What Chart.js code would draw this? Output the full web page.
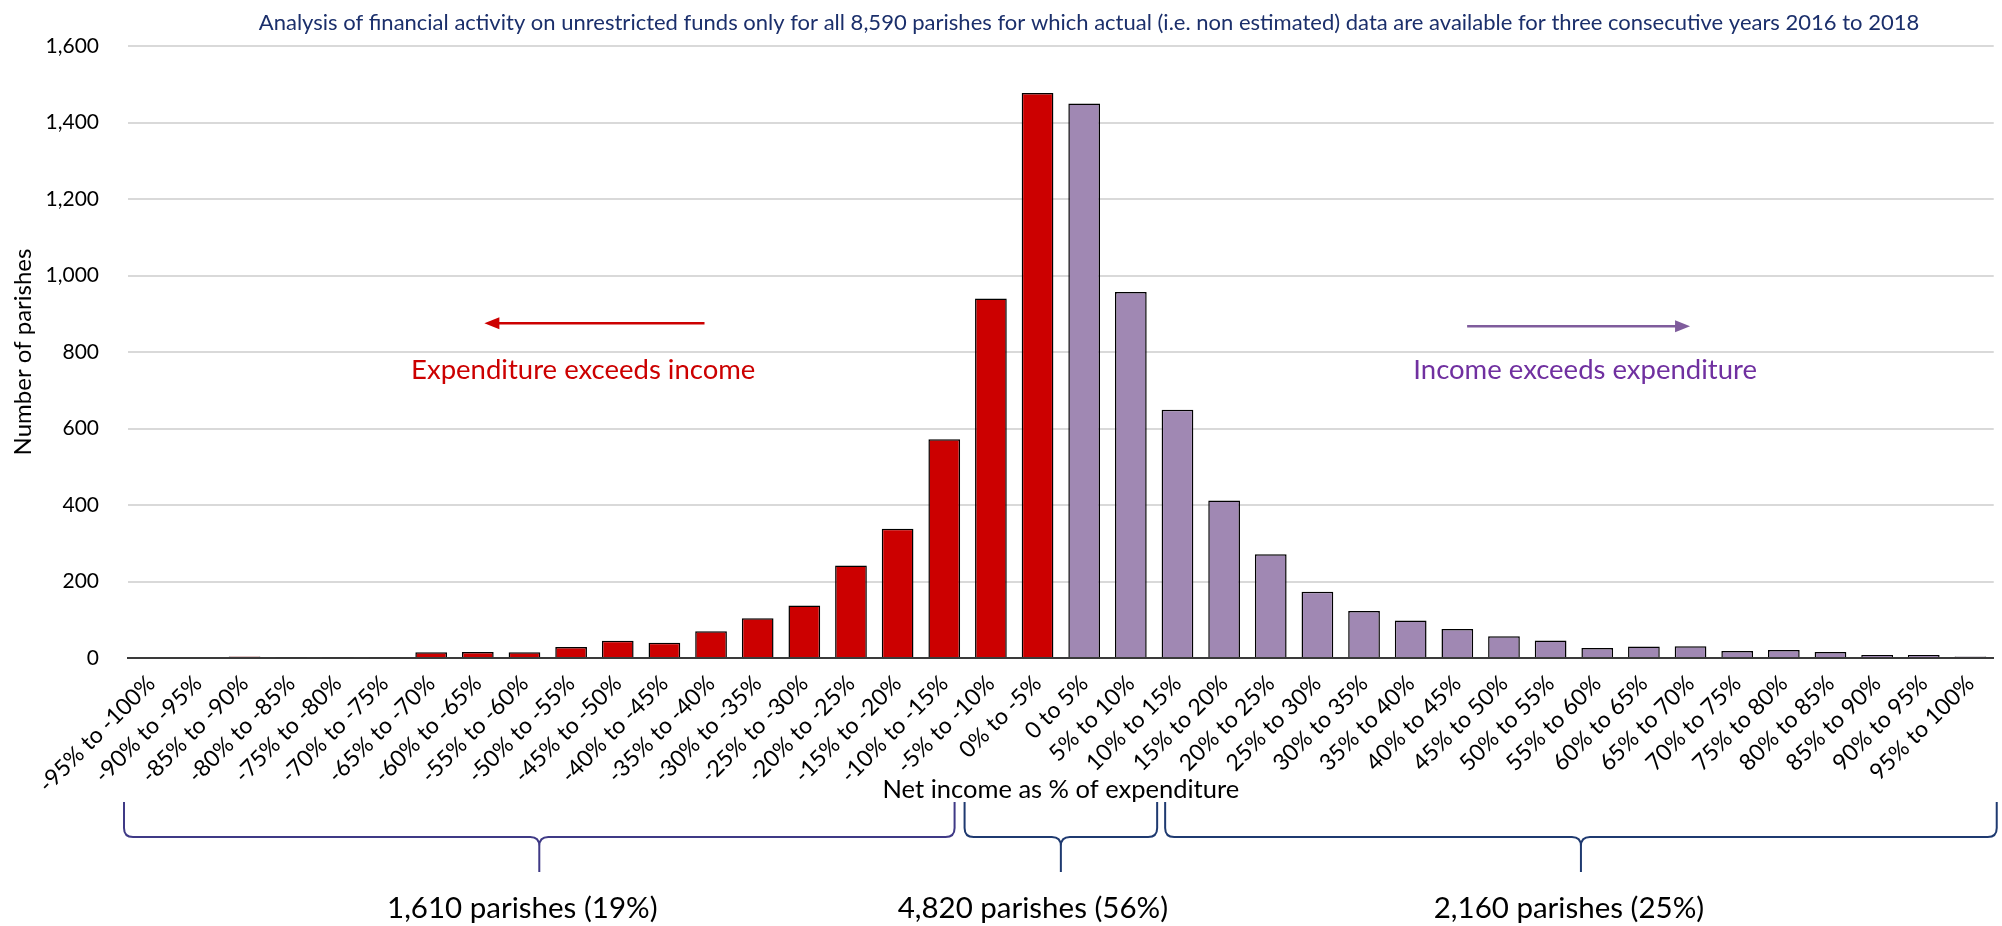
<!DOCTYPE html>
<html>
<head>
<meta charset="utf-8">
<script src="https://cdn.jsdelivr.net/npm/chart.js@4.4.1/dist/chart.umd.min.js"></script>
<style>
  html, body { margin: 0; padding: 0; background: #ffffff; }
  #wrap { width: 2002px; height: 926px; position: relative; }
  canvas { display: block; }
</style>
</head>
<body>
<div id="wrap"><canvas id="chart" width="2002" height="926"></canvas></div>
<script>
// Net income as % of expenditure, 5-point bands
const binLabels = [
  '-95% to -100%', '-90% to -95%', '-85% to -90%', '-80% to -85%', '-75% to -80%',
  '-70% to -75%', '-65% to -70%', '-60% to -65%', '-55% to -60%', '-50% to -55%',
  '-45% to -50%', '-40% to -45%', '-35% to -40%', '-30% to -35%', '-25% to -30%',
  '-20% to -25%', '-15% to -20%', '-10% to -15%', '-5% to -10%', '0% to -5%',
  '0 to 5%', '5% to 10%', '10% to 15%', '15% to 20%', '20% to 25%',
  '25% to 30%', '30% to 35%', '35% to 40%', '40% to 45%', '45% to 50%',
  '50% to 55%', '55% to 60%', '60% to 65%', '65% to 70%', '70% to 75%',
  '75% to 80%', '80% to 85%', '85% to 90%', '90% to 95%', '95% to 100%'
];

// Number of parishes in each band where expenditure exceeds income
const deficitCounts = [0, 0, 4, 2, 2, 2, 15, 16, 15, 29, 45, 40, 70, 104, 137, 242, 338, 572, 940, 1477];

// Number of parishes in each band where income exceeds expenditure
const surplusCounts = [1450, 957, 649, 412, 271, 173, 123, 98, 76, 57, 46, 26, 30, 31, 18, 21, 16, 8, 8, 4];

// Y axis ticks
const yTickValues = [0, 200, 400, 600, 800, 1000, 1200, 1400, 1600];

// Group totals shown under the braces, with the band index range each covers
const groupLabels = ['1,610 parishes (19%)', '4,820 parishes (56%)', '2,160 parishes (25%)'];
const groupRanges = [[0, 18], [18, 22], [22, 40]];

const chartTitle = 'Analysis of financial activity on unrestricted funds only for all 8,590 parishes for which actual (i.e. non estimated) data are available for three consecutive years 2016 to 2018';
const xTitle = 'Net income as % of expenditure';
const yTitle = 'Number of parishes';
const leftNote = 'Expenditure exceeds income';
const rightNote = 'Income exceeds expenditure';

const FONT = 'Lato, "Open Sans", sans-serif';
const RED = '#cc0000';
const LAVENDER = '#a088b3';
const PURPLE_TEXT = '#7030a0';
const PURPLE_ARROW = '#7f5c9c';
const NAVY = '#1b2f6b';

const nBins = binLabels.length;
const deficitData = binLabels.map((_, i) => i < deficitCounts.length ? deficitCounts[i] : null);
const surplusData = binLabels.map((_, i) => i >= deficitCounts.length ? surplusCounts[i - deficitCounts.length] : null);

function fmt(n) { return n.toLocaleString('en-US'); }

function arrow(ctx, x1, y, x2, color) {
  const dir = Math.sign(x2 - x1);
  const head = 15, half = 6;
  ctx.save();
  ctx.strokeStyle = color;
  ctx.fillStyle = color;
  ctx.lineWidth = 2.5;
  ctx.beginPath();
  ctx.moveTo(x1, y);
  ctx.lineTo(x2 - dir * head * 0.8, y);
  ctx.stroke();
  ctx.beginPath();
  ctx.moveTo(x2, y);
  ctx.lineTo(x2 - dir * head, y - half);
  ctx.lineTo(x2 - dir * head, y + half);
  ctx.closePath();
  ctx.fill();
  ctx.restore();
}

function brace(ctx, xa, xb, yTop, yMid, yTip, color) {
  const xm = (xa + xb) / 2;
  const r = 9;
  ctx.save();
  ctx.strokeStyle = color;
  ctx.lineWidth = 2;
  ctx.lineJoin = 'round';
  ctx.beginPath();
  ctx.moveTo(xa, yTop);
  ctx.lineTo(xa, yMid - r);
  ctx.quadraticCurveTo(xa, yMid, xa + r, yMid);
  ctx.lineTo(xm - r, yMid);
  ctx.quadraticCurveTo(xm, yMid, xm, yMid + r);
  ctx.lineTo(xm, yTip);
  ctx.moveTo(xb, yTop);
  ctx.lineTo(xb, yMid - r);
  ctx.quadraticCurveTo(xb, yMid, xb - r, yMid);
  ctx.lineTo(xm + r, yMid);
  ctx.quadraticCurveTo(xm, yMid, xm, yMid + r);
  ctx.stroke();
  ctx.restore();
  return xm;
}

const decorations = {
  id: 'decorations',
  afterDraw(chart) {
    const ctx = chart.ctx;
    const area = chart.chartArea;
    const ys = chart.scales.y;
    const band = (area.right - area.left) / nBins;
    const bx = (i) => area.left + i * band;   // band boundary / fractional band position

    ctx.save();
    ctx.textAlign = 'center';
    ctx.textBaseline = 'middle';

    // Title
    ctx.fillStyle = NAVY;
    ctx.font = '22px ' + FONT;
    ctx.fillText(chartTitle, 1089, 23);

    // Y axis title
    ctx.save();
    ctx.translate(23, (area.top + area.bottom) / 2);
    ctx.rotate(-Math.PI / 2);
    ctx.fillStyle = '#000';
    ctx.font = '24px ' + FONT;
    ctx.fillText(yTitle, 0, 0);
    ctx.restore();

    // X axis title
    ctx.fillStyle = '#000';
    ctx.font = '25.5px ' + FONT;
    ctx.fillText(xTitle, (area.left + area.right) / 2, 790);

    // Direction notes
    const yArrowL = ys.getPixelForValue(875);
    const yArrowR = ys.getPixelForValue(867);
    const yNote = ys.getPixelForValue(752);
    arrow(ctx, bx(12.36), yArrowL, bx(7.64), RED);
    arrow(ctx, bx(28.71), yArrowR, bx(33.49), PURPLE_ARROW);
    ctx.font = '27.5px ' + FONT;
    ctx.fillStyle = RED;
    ctx.fillText(leftNote, bx(9.76), yNote);
    ctx.fillStyle = PURPLE_TEXT;
    ctx.fillText(rightNote, bx(31.24), yNote);

    // Braces with group totals
    const braceColors = ['#3f3a86', '#1f3a70', '#1f3a70'];
    const insets = [[-4, -13], [-3, 3], [11, 3]];
    const labelShift = [-17, -28, -12];
    ctx.font = '29.5px ' + FONT;
    ctx.fillStyle = '#000';
    groupRanges.forEach((rg, k) => {
      const xa = bx(rg[0]) + insets[k][0];
      const xb = bx(rg[1]) + insets[k][1];
      const xm = brace(ctx, xa, xb, 802, 837, 872, braceColors[k]);
      ctx.fillText(groupLabels[k], xm + labelShift[k], 908);
    });
    ctx.restore();
  }
};

new Chart(document.getElementById('chart'), {
  type: 'bar',
  data: {
    labels: binLabels,
    datasets: [
      {
        label: leftNote,
        data: deficitData,
        backgroundColor: RED,
        borderColor: '#000000',
        borderWidth: 1.5,
        grouped: false,
        barPercentage: 0.68,
        categoryPercentage: 1.0
      },
      {
        label: rightNote,
        data: surplusData,
        backgroundColor: LAVENDER,
        borderColor: '#000000',
        borderWidth: 1.5,
        grouped: false,
        barPercentage: 0.68,
        categoryPercentage: 1.0
      }
    ]
  },
  options: {
    responsive: false,
    animation: false,
    devicePixelRatio: 1,
    layout: { padding: { top: 46, right: 6, left: 0, bottom: 0 } },
    plugins: {
      legend: { display: false },
      tooltip: { enabled: false },
      title: { display: false }
    },
    scales: {
      x: {
        type: 'category',
        offset: true,
        grid: { display: false, drawTicks: false, tickLength: 0 },
        border: { display: true, color: '#3a3a3a', width: 2 },
        ticks: {
          autoSkip: false,
          maxRotation: 45,
          minRotation: 45,
          padding: 12,
          color: '#000',
          font: { family: FONT, size: 23 }
        },
        afterFit(scale) { scale.height = 268; }
      },
      y: {
        min: 0,
        max: 1600,
        afterBuildTicks(scale) { scale.ticks = yTickValues.map(v => ({ value: v })); },
        grid: { color: '#d9d9d9', lineWidth: 2, drawTicks: false, tickLength: 0 },
        border: { display: false },
        ticks: {
          padding: 29,
          color: '#000',
          font: { family: FONT, size: 21 },
          callback: (v) => fmt(v)
        },
        afterFit(scale) { scale.width = 128; }
      }
    }
  },
  plugins: [decorations]
});
</script>
</body>
</html>
